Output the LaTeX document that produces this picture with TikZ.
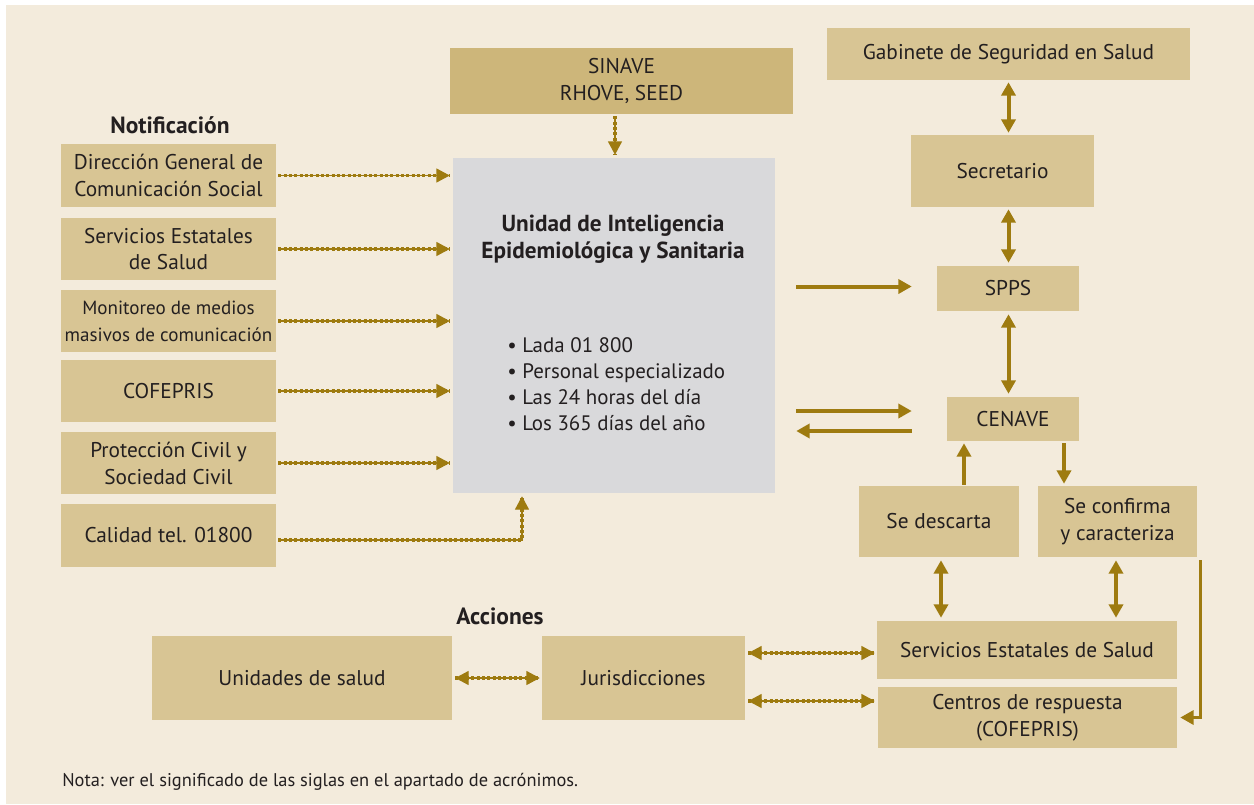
\documentclass[tikz,border=0pt]{standalone}
\usepackage{fontspec}
\setmainfont{PT Sans}
\usetikzlibrary{arrows.meta,calc}
\definecolor{cream}{HTML}{F3EBDC}
\definecolor{tan}{HTML}{D8C594}
\definecolor{tandark}{HTML}{CDB67A}
\definecolor{unitgray}{HTML}{D9D9DB}
\definecolor{gold}{HTML}{9E7B10}
\definecolor{ink}{HTML}{231F20}
\begin{document}
\begin{tikzpicture}[x=0.75pt,y=-0.75pt,
  box/.style={rectangle, fill=tan, draw=none, align=center, text=ink,
    font=\fontsize{16}{20.2}\selectfont, inner sep=0pt},
  solidtip/.style={-{Triangle[length=10pt,width=10.5pt]}},
  solidarr/.style={draw=gold, line width=3pt, solidtip},
  solidboth/.style={draw=gold, line width=3pt, {Triangle[length=10pt,width=10.5pt]}-{Triangle[length=10pt,width=10.5pt]}},
  dots/.style={postaction={draw=gold, line width=2.4pt, dash pattern=on 2.2pt off 1.8pt, -}},
  dotarr/.style={draw=gold, line width=0.9pt, -{Triangle[length=10pt,width=10.5pt]}, dots},
  dotboth/.style={draw=gold, line width=0.9pt, {Triangle[length=10pt,width=10.5pt]}-{Triangle[length=10pt,width=10.5pt]}, dots},
  heading/.style={font=\fontsize{17.6}{20}\selectfont\bfseries, text=ink, inner sep=0pt}
]
% page and panel
\useasboundingbox (0,0) rectangle (1254,804);
\fill[white] (0,0) rectangle (1254,804);
\fill[cream] (6,5) rectangle (1254,804);

% central unit
\node[box, fill=unitgray, minimum width=322*0.75pt, minimum height=335*0.75pt] (uie) at (614,325.5) {};
\node[font=\fontsize{17.4}{20.2}\selectfont\bfseries, text=ink, align=center, inner sep=0pt] (uietitle) at (613,239) {Unidad de Inteligencia\\Epidemiológica y Sanitaria};
\node[font=\fontsize{15.7}{19.6}\selectfont, text=ink, align=left, anchor=north west, inner sep=0pt] (uielist) at (507,337)
  {\textbullet\ Lada 01 800\\ \textbullet\ Personal especializado\\ \textbullet\ Las 24 horas del día\\ \textbullet\ Los 365 días del año};

% top source
\node[box, fill=tandark, minimum width=343*0.75pt, minimum height=66*0.75pt] (sinave) at (621.5,81) {SINAVE\\RHOVE, SEED};

% notification sources
\node[heading] (notif) at (170,125) {Notificación};
\node[box, minimum width=215*0.75pt, minimum height=63*0.75pt] (dgcs) at (168.5,175.5) {Dirección General de\\Comunicación Social};
\node[box, minimum width=215*0.75pt, minimum height=62*0.75pt] (sesl) at (168.5,249) {Servicios Estatales\\de Salud};
\node[box, minimum width=215*0.75pt, minimum height=62*0.75pt] (mon) at (168.5,321) {\fontsize{14.3}{19.5}\selectfont Monitoreo de medios\\\fontsize{14.3}{19.5}\selectfont masivos de comunicación};
\node[box, minimum width=215*0.75pt, minimum height=62*0.75pt] (cof) at (168.5,391) {COFEPRIS};
\node[box, minimum width=215*0.75pt, minimum height=62*0.75pt] (pc) at (168.5,463) {Protección Civil y\\Sociedad Civil};
\node[box, minimum width=215*0.75pt, minimum height=63*0.75pt] (cal) at (168.5,535.5) {Calidad tel. 01800};

% chain of command
\node[box, minimum width=363*0.75pt, minimum height=52*0.75pt] (gab) at (1008.5,54) {Gabinete de Seguridad en Salud};
\node[box, minimum width=183*0.75pt, minimum height=72*0.75pt] (sec) at (1002.5,171) {Secretario};
\node[box, minimum width=142*0.75pt, minimum height=45*0.75pt] (spps) at (1008,288.5) {SPPS};
\node[box, minimum width=132*0.75pt, minimum height=44*0.75pt] (cenave) at (1013,419) {CENAVE};
\node[box, minimum width=160*0.75pt, minimum height=71*0.75pt] (desc) at (939,521.5) {Se descarta};
\node[box, minimum width=159*0.75pt, minimum height=71*0.75pt] (conf) at (1117.5,521.5) {Se confirma\\y caracteriza};

% actions
\node[heading] (acc) at (500,616) {Acciones};
\node[box, minimum width=300*0.75pt, minimum height=58*0.75pt] (ses) at (1027,650) {Servicios Estatales de Salud};
\node[box, minimum width=299*0.75pt, minimum height=61*0.75pt] (cen) at (1027.5,717.5) {Centros de respuesta\\(COFEPRIS)};
\node[box, minimum width=300*0.75pt, minimum height=84*0.75pt] (uni) at (302,678) {Unidades de salud};
\node[box, minimum width=203*0.75pt, minimum height=84*0.75pt] (jur) at (643.5,678) {Jurisdicciones};

% footnote
\node[font=\fontsize{13.8}{16}\selectfont, text=ink, anchor=west, inner sep=0pt] (nota) at (62,782) {Nota: ver el significado de las siglas en el apartado de acrónimos.};

% notification arrows
\foreach \s in {dgcs,sesl,mon,cof,pc}
  \draw[dotarr] ($(\s.east)+(2,0)$) -- ($(uie.west |- \s.east)+(-3,0)$);
\draw[dotarr] ($(cal.east)+(2,4.5)$) -| ($(uie.south)+(-92,3)$);
\draw[dotarr] ($(sinave.south -| uie.north)+(1,2)$) -- ($(uie.north)+(1,-3)$);

% unit to SPPS / CENAVE
\draw[solidarr] ($(uie.east |- spps.west)+(21,-2)$) -- ($(spps.west)+(-25,-2)$);
\draw[solidarr] ($(uie.east |- cenave.west)+(21,-8)$) -- ($(cenave.west)+(-35,-8)$);
\draw[solidarr] ($(cenave.west)+(-35,12)$) -- ($(uie.east |- cenave.west)+(21,12)$);

% vertical chain
\draw[solidboth] ($(gab.south)+(0,2)$) -- ($(gab.south |- sec.north)+(0,-2)$);
\draw[solidboth] ($(gab.south |- sec.south)+(0,2)$) -- ($(gab.south |- spps.north)+(0,-3)$);
\draw[solidboth] ($(gab.south |- spps.south)+(0,3)$) -- ($(gab.south |- cenave.north)+(0,-3)$);
\coordinate (dup) at ($(desc.north)+(25,-1)$);
\draw[solidarr] (dup) -- ($(dup |- cenave.south)+(0,2)$);
\draw[solidarr] ($(cenave.south)+(51,2)$) -- ($(cenave.south |- conf.north)+(51,-2)$);
\draw[solidboth] ($(desc.south)+(2,3)$) -- ($(desc.south |- ses.north)+(2,-3)$);
\draw[solidboth] ($(conf.south)+(-1.5,3)$) -- ($(conf.south |- ses.north)+(-1.5,-3)$);
\draw[draw=gold, line width=2.4pt, solidtip] ($(conf.south east)+(3,3)$) |- ($(cen.east)+(3,0)$);

% action links
\draw[dotboth] ($(uni.east)+(3,0)$) -- ($(jur.west)+(-2,0)$);
\draw[dotboth] ($(jur.east |- ses.west)+(3,3)$) -- ($(ses.west)+(-2,3)$);
\draw[dotboth] ($(jur.east |- cen.west)+(3,-16.5)$) -- ($(cen.west)+(-3,-16.5)$);
\end{tikzpicture}
\end{document}
